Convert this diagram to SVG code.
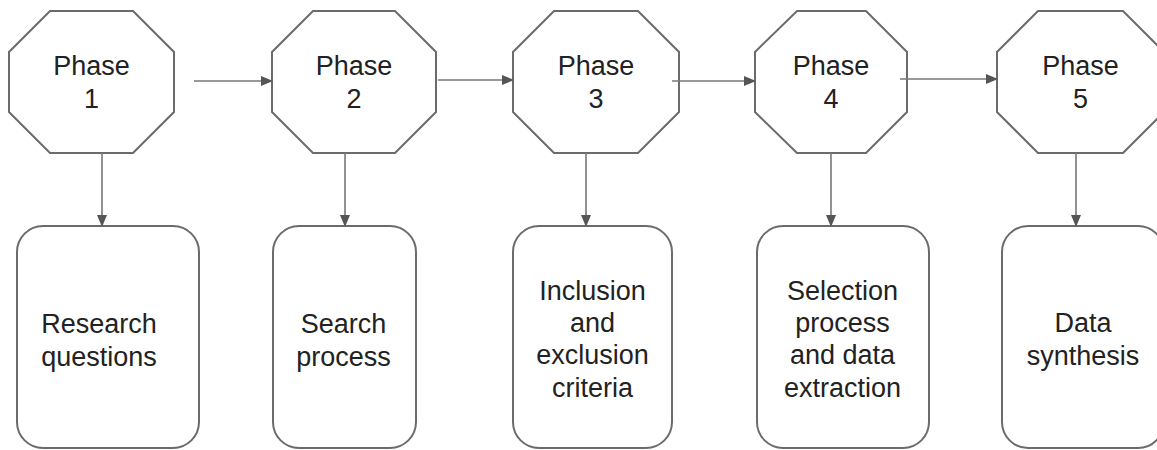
<svg xmlns="http://www.w3.org/2000/svg" width="1157" height="450" viewBox="0 0 1157 450">
<defs>
<marker id="ah" markerWidth="12" markerHeight="10" refX="11" refY="5" orient="auto" markerUnits="userSpaceOnUse">
<path d="M0,0 L12,5 L0,10 Z" fill="#555"/>
</marker>
<style>
.oct{fill:#fff;stroke:#6b6b6b;stroke-width:2}
.box{fill:#fff;stroke:#6b6b6b;stroke-width:2}
.t{font-family:"Liberation Sans",Arial,sans-serif;font-size:27px;fill:#222;text-anchor:middle}
.c{stroke:#777;stroke-width:1.6;fill:none;marker-end:url(#ah)}
</style>
</defs>
<rect width="1157" height="450" fill="#fff"/>
<g id="phase1">
<polygon class="oct" points="50,11 133,11 174,52 174,112 133,153 50,153 9,112 9,52"/>
<text class="t" x="91.5" y="75">Phase</text><text class="t" x="91.5" y="108">1</text>
</g>
<g id="phase2">
<polygon class="oct" points="313,11 395,11 436,52 436,112 395,153 313,153 272,112 272,52"/>
<text class="t" x="354" y="75">Phase</text><text class="t" x="354" y="108">2</text>
</g>
<g id="phase3">
<polygon class="oct" points="554,11 638,11 679,52 679,112 638,153 554,153 513,112 513,52"/>
<text class="t" x="596" y="75">Phase</text><text class="t" x="596" y="108">3</text>
</g>
<g id="phase4">
<polygon class="oct" points="797,11 866,11 907,52 907,112 866,153 797,153 755,112 755,52"/>
<text class="t" x="831" y="75">Phase</text><text class="t" x="831" y="108">4</text>
</g>
<g id="phase5">
<polygon class="oct" points="1038,11 1123,11 1164,52 1164,112 1123,153 1038,153 997,112 997,52"/>
<text class="t" x="1080.5" y="75">Phase</text><text class="t" x="1080.5" y="108">5</text>
</g>
<g id="box1">
<rect class="box" x="17" y="226" width="182" height="222" rx="26"/>
<text class="t" x="99" y="333">Research</text><text class="t" x="99" y="366">questions</text>
</g>
<g id="box2">
<rect class="box" x="273" y="226" width="143" height="222" rx="26"/>
<text class="t" x="343.5" y="333">Search</text><text class="t" x="343.5" y="366">process</text>
</g>
<g id="box3">
<rect class="box" x="513" y="226" width="159" height="222" rx="26"/>
<text class="t" x="592.5" y="300">Inclusion</text><text class="t" x="592.5" y="332">and</text><text class="t" x="592.5" y="364">exclusion</text><text class="t" x="592.5" y="397">criteria</text>
</g>
<g id="box4">
<rect class="box" x="757" y="226" width="172" height="222" rx="26"/>
<text class="t" x="842.5" y="300">Selection</text><text class="t" x="842.5" y="332">process</text><text class="t" x="842.5" y="364">and data</text><text class="t" x="842.5" y="397">extraction</text>
</g>
<g id="box5">
<rect class="box" x="1002" y="226" width="162" height="222" rx="26"/>
<text class="t" x="1083" y="332">Data</text><text class="t" x="1083" y="365">synthesis</text>
</g>
<g id="connectors">
<line class="c" x1="194" y1="81" x2="272" y2="81"/>
<line class="c" x1="438" y1="80" x2="513" y2="80"/>
<line class="c" x1="672" y1="81" x2="755" y2="81"/>
<line class="c" x1="900" y1="79" x2="997" y2="79"/>
<line class="c" x1="102" y1="153" x2="102" y2="226"/>
<line class="c" x1="345" y1="153" x2="345" y2="226"/>
<line class="c" x1="586" y1="153" x2="586" y2="226"/>
<line class="c" x1="831" y1="153" x2="831" y2="226"/>
<line class="c" x1="1076" y1="153" x2="1076" y2="226"/>
</g>
</svg>
